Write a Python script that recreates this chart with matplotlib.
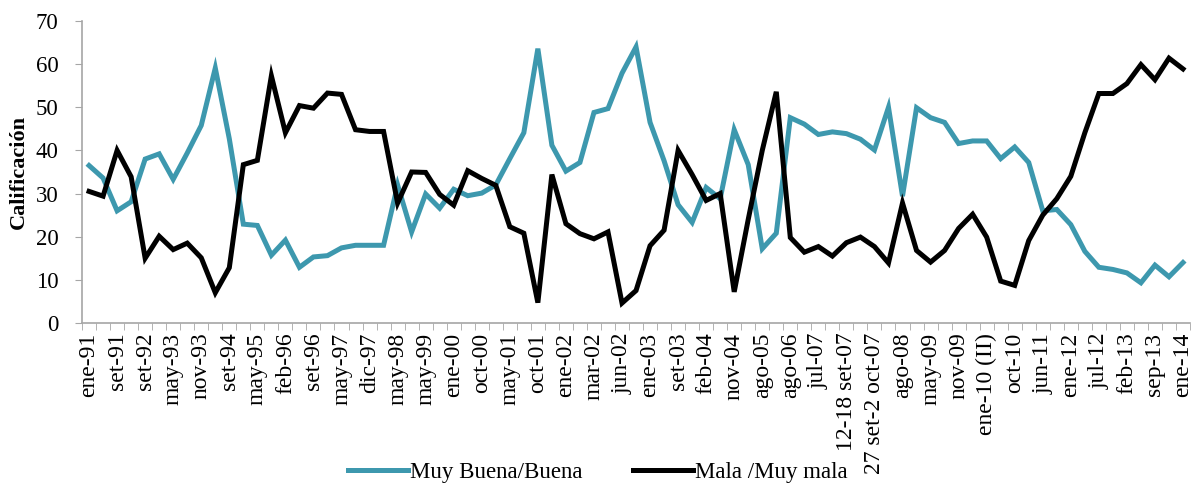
import matplotlib.pyplot as plt
import numpy as np

# etiquetas del eje x (una cada dos encuestas)
tick_labels = ["ene-91", "set-91", "set-92", "may-93", "nov-93", "set-94", "may-95",
               "feb-96", "set-96", "may-97", "dic-97", "may-98", "may-99", "ene-00",
               "oct-00", "may-01", "oct-01", "ene-02", "mar-02", "jun-02", "ene-03",
               "set-03", "feb-04", "nov-04", "ago-05", "ago-06", "jul-07", "12-18 set-07",
               "27 set-2 oct-07", "ago-08", "may-09", "nov-09", "ene-10 (II)", "oct-10",
               "jun-11", "ene-12", "jul-12", "feb-13", "sep-13", "ene-14"]

buena = [36.5, 33.6, 26.0, 28.1, 38.0, 39.2, 33.3, 39.4, 45.8, 59.1,
         42.7, 22.9, 22.6, 15.7, 19.2, 12.9, 15.3, 15.6, 17.4, 18.0,
         18.0, 18.0, 32.0, 21.1, 29.9, 26.6, 31.0, 29.5, 30.1, 32.0,
         38.1, 44.1, 63.6, 41.2, 35.2, 37.2, 48.8, 49.7, 57.9, 64.0,
         46.5, 37.6, 27.4, 23.3, 31.4, 28.8, 44.8, 36.7, 17.2, 20.8,
         47.6, 46.1, 43.7, 44.3, 43.9, 42.6, 40.1, 50.0, 29.4, 49.9,
         47.6, 46.5, 41.6, 42.2, 42.2, 38.1, 40.8, 37.2, 26.0, 26.3,
         22.8, 16.6, 12.9, 12.4, 11.6, 9.3, 13.4, 10.7, 14.0]

mala = [30.5, 29.4, 40.0, 33.9, 15.0, 20.1, 17.0, 18.5, 15.1, 7.0,
        12.8, 36.7, 37.7, 57.3, 44.1, 50.4, 49.8, 53.3, 53.0, 44.8,
        44.4, 44.4, 27.8, 35.0, 34.9, 29.8, 27.3, 35.3, 33.5, 31.9,
        22.3, 20.8, 4.7, 34.4, 23.0, 20.7, 19.5, 21.1, 4.6, 7.5,
        17.9, 21.5, 40.0, 34.4, 28.4, 30.0, 7.2, 24.0, 40.0, 53.6,
        19.8, 16.4, 17.7, 15.5, 18.6, 19.9, 17.7, 13.9, 27.8, 16.8,
        14.1, 16.8, 21.9, 25.2, 19.9, 9.7, 8.7, 19.1, 25.0, 28.8,
        34.0, 44.1, 53.2, 53.2, 55.5, 59.9, 56.4, 61.4, 58.9]

plt.rcParams["font.family"] = ["Liberation Serif", "DejaVu Serif"]

x = np.arange(len(buena))

fig = plt.figure(figsize=(11.96, 4.9), dpi=100)
ax = fig.add_axes([0.0686, 0.341, 0.9264, 0.616])

ax.plot(x, buena, color="#3D98AE", lw=3.6, label="Muy Buena/Buena", solid_joinstyle="miter")
ax.plot(x, mala, color="black", lw=3.6, label="Mala /Muy mala", solid_joinstyle="miter")

ax.set_xlim(-0.5, len(x) - 0.5)
ax.set_ylim(0, 70)
ax.set_yticks(range(0, 71, 10))
ax.tick_params(axis="y", labelsize=16.5, length=5, color="#A6A6A6", pad=12)

ax.set_xticks(x[::2])
ax.set_xticklabels(tick_labels, rotation=90, fontsize=17)
ax.set_xticks(np.arange(-0.5, len(x)), minor=True)
ax.tick_params(axis="x", which="major", length=0, pad=7)
ax.tick_params(axis="x", which="minor", length=5, color="#A6A6A6")

for s in ["top", "right"]:
    ax.spines[s].set_visible(False)
for s in ["left", "bottom"]:
    ax.spines[s].set_color("#A6A6A6")
    ax.spines[s].set_linewidth(1.2)

ax.set_ylabel("Calificación", fontsize=16, fontweight="bold", labelpad=5)

fig.legend(loc="lower center", bbox_to_anchor=(0.5, -0.028), ncol=2, frameon=False,
           fontsize=16.5, handlelength=2.6, handletextpad=0.1, columnspacing=2.2)

fig.savefig("out.png", dpi=100)
